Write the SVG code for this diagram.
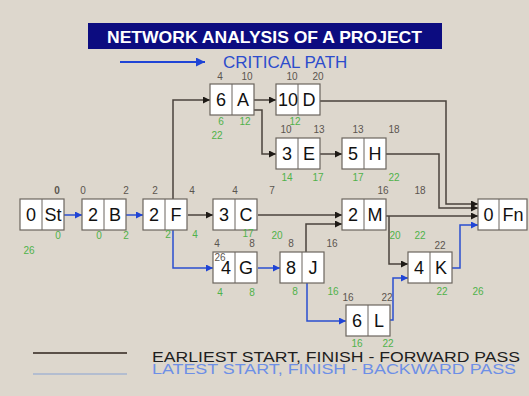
<svg xmlns="http://www.w3.org/2000/svg" width="529" height="396" viewBox="0 0 529 396">
<defs>
<marker id="ak" markerUnits="userSpaceOnUse" markerWidth="7" markerHeight="7" refX="7" refY="3.5" orient="auto"><path d="M0,0 L7,3.5 L0,7 z" fill="#1e1a16"/></marker>
<marker id="ab" markerUnits="userSpaceOnUse" markerWidth="7" markerHeight="7" refX="7" refY="3.5" orient="auto"><path d="M0,0 L7,3.5 L0,7 z" fill="#1f44d6"/></marker>
<marker id="ab2" markerUnits="userSpaceOnUse" markerWidth="9" markerHeight="9" refX="9" refY="4.5" orient="auto"><path d="M0,0 L9,4.5 L0,9 z" fill="#1f44d6"/></marker>
</defs>
<style>
.bx{fill:#ffffff;stroke:#6b655e;stroke-width:1.2}
.dv{stroke:#6b655e;stroke-width:1}
.nt{font-family:"Liberation Sans",Arial,sans-serif;font-size:18px;fill:#111;text-anchor:middle}
.g{font-family:"Liberation Sans",Arial,sans-serif;font-size:10px;fill:#5b554f;text-anchor:middle}
.gr{font-family:"Liberation Sans",Arial,sans-serif;font-size:10px;fill:#4fb24a;text-anchor:middle}
.k{fill:none;stroke:#4a433c;stroke-width:1.5;marker-end:url(#ak)}
.b{fill:none;stroke:#2a4fd0;stroke-width:1.5;marker-end:url(#ab)}
</style>
<rect x="0" y="0" width="529" height="396" fill="#ddd7cd"/>
<g id="title">
<rect x="88" y="23" width="354" height="26" fill="#0c0c80"/>
<text x="107" y="42.5" font-family="Liberation Sans,Arial,sans-serif" font-size="16.5" font-weight="bold" fill="#ffffff" textLength="315" lengthAdjust="spacingAndGlyphs">NETWORK ANALYSIS OF A PROJECT</text>
</g>
<g id="critical-legend">
<path d="M120,62 H205" stroke="#1f44d6" stroke-width="2" fill="none" marker-end="url(#ab2)"/>
<text x="223" y="68" font-family="Liberation Sans,Arial,sans-serif" font-size="17" fill="#2c4ccc">CRITICAL PATH</text>
</g>
<g id="connectors">
<path class="k" d="M188,215 H213"/>
<path class="k" d="M173,199 V100 H210"/>
<path class="k" d="M253,100 H276"/>
<path class="k" d="M253,110 H262 V154 H276"/>
<path class="k" d="M319,101 H446 V204 H478"/>
<path class="k" d="M319,154 H342"/>
<path class="k" d="M386,154 H439 V208 H478"/>
<path class="k" d="M258,215 H342"/>
<path class="k" d="M306,252 V224 H342"/>
<path class="k" d="M386,216 H478"/>
<path class="k" d="M389,216 V264 H408"/>
<path class="b" d="M64,215 H82"/>
<path class="b" d="M126,215 H143"/>
<path class="b" d="M173,230 V268 H213"/>
<path class="b" d="M258,268 H280"/>
<path class="b" d="M307,283 V321 H346"/>
<path class="b" d="M390,320 H393 V278 H408"/>
<path class="b" d="M452,268 H460 V225 H478"/>
</g>
<g id="node-St">
<rect class="bx" x="20" y="199" width="44" height="31"/><line class="dv" x1="42" y1="199" x2="42" y2="230"/>
<text class="nt" x="31" y="221">0</text><text class="nt" x="53" y="221">St</text>
<text class="g" x="57" y="194" font-weight="bold" fill="#222">0</text>
<text class="gr" x="58" y="239">0</text><text class="gr" x="29" y="254">26</text>
</g>
<g id="node-B">
<rect class="bx" x="82" y="199" width="44" height="31"/><line class="dv" x1="104" y1="199" x2="104" y2="230"/>
<text class="nt" x="93" y="221">2</text><text class="nt" x="115" y="221">B</text>
<text class="g" x="83" y="194" fill="#8a8278">0</text><text class="g" x="126" y="194">2</text>
<text class="gr" x="99" y="239">0</text><text class="gr" x="126" y="239">2</text>
</g>
<g id="node-F">
<rect class="bx" x="143" y="199" width="44" height="31"/><line class="dv" x1="165" y1="199" x2="165" y2="230"/>
<text class="nt" x="154" y="221">2</text><text class="nt" x="176" y="221">F</text>
<text class="g" x="155" y="194">2</text><text class="g" x="192" y="194">4</text>
<text class="gr" x="168" y="238">2</text><text class="gr" x="195" y="238">4</text>
</g>
<g id="node-C">
<rect class="bx" x="213" y="199" width="44" height="31"/><line class="dv" x1="235" y1="199" x2="235" y2="230"/>
<text class="nt" x="224" y="221">3</text><text class="nt" x="246" y="221">C</text>
<text class="g" x="235" y="194">4</text><text class="g" x="272" y="194">7</text>
<text class="gr" x="248" y="237">17</text><text class="gr" x="277" y="239">20</text>
</g>
<g id="node-M">
<rect class="bx" x="342" y="199" width="44" height="31"/><line class="dv" x1="364" y1="199" x2="364" y2="230"/>
<text class="nt" x="353" y="221">2</text><text class="nt" x="375" y="221">M</text>
<text class="g" x="383" y="194">16</text><text class="g" x="420" y="194">18</text>
<text class="gr" x="395" y="239">20</text><text class="gr" x="420" y="239">22</text>
</g>
<g id="node-Fn">
<rect class="bx" x="478" y="199" width="49" height="31"/><line class="dv" x1="499" y1="199" x2="499" y2="230"/>
<text class="nt" x="488.5" y="221">0</text><text class="nt" x="513" y="221">Fn</text>
</g>
<g id="node-A">
<rect class="bx" x="210" y="84" width="44" height="31"/><line class="dv" x1="232" y1="84" x2="232" y2="115"/>
<text class="nt" x="221" y="106">6</text><text class="nt" x="243" y="106">A</text>
<text class="g" x="220" y="80">4</text><text class="g" x="247" y="80">10</text>
<text class="gr" x="221" y="125">6</text><text class="gr" x="245" y="125">12</text><text class="gr" x="217" y="139">22</text>
</g>
<g id="node-D">
<rect class="bx" x="276" y="84" width="44" height="31"/><line class="dv" x1="298" y1="84" x2="298" y2="115"/>
<text class="nt" x="288" y="106">10</text><text class="nt" x="309" y="106">D</text>
<text class="g" x="292" y="80">10</text><text class="g" x="318" y="80">20</text>
<text class="gr" x="295" y="125">12</text>
</g>
<g id="node-E">
<rect class="bx" x="276" y="138" width="44" height="31"/><line class="dv" x1="298" y1="138" x2="298" y2="169"/>
<text class="nt" x="287" y="160">3</text><text class="nt" x="309" y="160">E</text>
<text class="g" x="286" y="133">10</text><text class="g" x="319" y="133">13</text>
<text class="gr" x="287" y="181">14</text><text class="gr" x="318" y="181">17</text>
</g>
<g id="node-H">
<rect class="bx" x="342" y="138" width="44" height="31"/><line class="dv" x1="364" y1="138" x2="364" y2="169"/>
<text class="nt" x="353" y="160">5</text><text class="nt" x="375" y="160">H</text>
<text class="g" x="358" y="133">13</text><text class="g" x="394" y="133">18</text>
<text class="gr" x="358" y="181">17</text><text class="gr" x="394" y="181">22</text>
</g>
<g id="node-G">
<rect class="bx" x="213" y="252" width="44" height="31"/><line class="dv" x1="235" y1="252" x2="235" y2="283"/>
<text class="nt" x="226" y="274">4</text><text class="nt" x="246" y="274">G</text>
<text class="g" x="217" y="247">4</text><text class="g" x="252" y="247">8</text>
<text class="g" x="220" y="261" fill="#6a6878">26</text>
<text class="gr" x="220" y="296">4</text><text class="gr" x="252" y="296">8</text>
</g>
<g id="node-J">
<rect class="bx" x="280" y="252" width="44" height="31"/><line class="dv" x1="302" y1="252" x2="302" y2="283"/>
<text class="nt" x="291" y="274">8</text><text class="nt" x="313" y="274">J</text>
<text class="g" x="291" y="247">8</text><text class="g" x="332" y="247">16</text>
<text class="gr" x="295" y="295">8</text><text class="gr" x="333" y="295">16</text>
</g>
<g id="node-K">
<rect class="bx" x="408" y="252" width="44" height="31"/><line class="dv" x1="430" y1="252" x2="430" y2="283"/>
<text class="nt" x="419" y="274">4</text><text class="nt" x="441" y="274">K</text>
<text class="g" x="440" y="249">22</text>
<text class="gr" x="442" y="295">22</text><text class="gr" x="478" y="295">26</text>
</g>
<g id="node-L">
<rect class="bx" x="346" y="305" width="44" height="31"/><line class="dv" x1="368" y1="305" x2="368" y2="336"/>
<text class="nt" x="357" y="327">6</text><text class="nt" x="379" y="327">L</text>
<text class="g" x="348" y="301" fill="#3a3530">16</text><text class="g" x="387" y="301" fill="#3a3530">22</text>
<text class="gr" x="357" y="347">16</text><text class="gr" x="388" y="347">22</text>
</g>
<g id="legend">
<line x1="33" y1="353" x2="127" y2="353" stroke="#5a5048" stroke-width="2"/>
<line x1="33" y1="374" x2="127" y2="374" stroke="#b3bdd0" stroke-width="2"/>
<text x="152" y="362" font-family="Liberation Sans,Arial,sans-serif" font-size="14" fill="#1e1e1e" textLength="368" lengthAdjust="spacingAndGlyphs">EARLIEST START, FINISH - FORWARD PASS</text>
<text x="152" y="374" font-family="Liberation Sans,Arial,sans-serif" font-size="14" fill="#6d8fe6" textLength="364" lengthAdjust="spacingAndGlyphs">LATEST START, FINISH - BACKWARD PASS</text>
</g>
</svg>
